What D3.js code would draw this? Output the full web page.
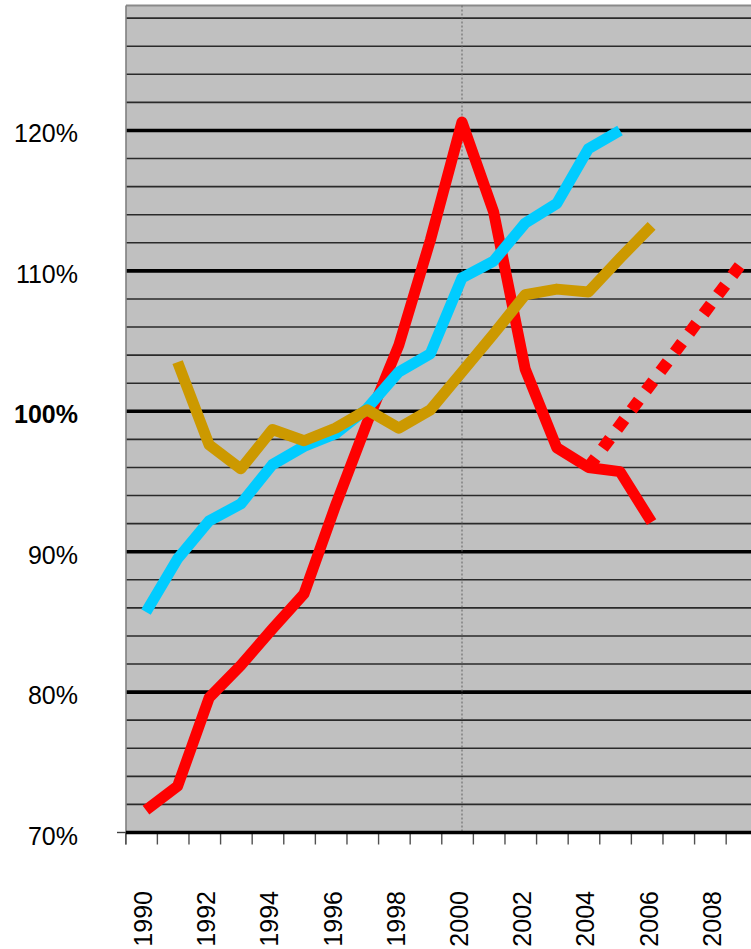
<!DOCTYPE html>
<html>
<head>
<meta charset="utf-8">
<script src="https://cdn.jsdelivr.net/npm/d3@7"></script>
<style>
    html, body { margin: 0; padding: 0; background: #ffffff; }
    svg { display: block; }
    text { font-family: Arial, "Liberation Sans", sans-serif; }
</style>
</head>
<body>
<div id="chart"></div>
<script>
// Index chart, 1990 = 100-ish, three series plus a dotted trend

const years = [1990, 1991, 1992, 1993, 1994, 1995, 1996, 1997, 1998, 1999,
               2000, 2001, 2002, 2003, 2004, 2005, 2006, 2007, 2008, 2009];

const redValues  = [71.6, 73.3, 79.6, 81.9, 84.5, 87.0, 93.3, 99.2, 104.7, 112.2,
                    120.6, 114.2, 103.0, 97.4, 96.0, 95.7, 92.1, null, null, null];
const cyanValues = [85.7, 89.5, 92.2, 93.4, 96.2, 97.5, 98.4, 100.2, 102.8, 104.1,
                    109.5, 110.7, 113.4, 114.8, 118.7, 120.0, null, null, null, null];
const goldValues = [null, 103.5, 97.6, 95.9, 98.7, 97.9, 98.8, 100.1, 98.8, 100.1,
                    102.8, 105.5, 108.3, 108.7, 108.5, 110.9, 113.2, null, null, null];

// dotted red trend
const trendYears  = [2004, 2009];
const trendValues = [96.0, 111.0];

const labelYears = [1990, 1992, 1994, 1996, 1998, 2000, 2002, 2004, 2006, 2008];
const majorTicks = [70, 80, 90, 100, 110, 120];
const tickLabels = ['70%', '80%', '90%', '100%', '110%', '120%'];
const minorTicks = [72, 74, 76, 78, 82, 84, 86, 88, 92, 94, 96, 98, 102, 104, 106, 108,
                    112, 114, 116, 118, 122, 124, 126, 128];

const width = 751;
const height = 949;
const plotLeft = 126;
const plotRight = 780;   // plot runs past the right edge of the picture

const svg = d3.select('#chart').append('svg')
    .attr('width', width)
    .attr('height', height);

// Scales
const x = d3.scaleLinear()
    .domain([1990, 2009])
    .range([146, 746.4]);

const y = d3.scaleLinear()
    .domain([70, 128.9])
    .range([832.5, 5.5]);

// Plot background
svg.append('rect')
    .attr('x', plotLeft)
    .attr('y', y(128.9))
    .attr('width', plotRight - plotLeft)
    .attr('height', y(70) - y(128.9))
    .attr('fill', '#c0c0c0');

// top border
svg.append('line')
    .attr('x1', plotLeft).attr('x2', plotRight)
    .attr('y1', y(128.9)).attr('y2', y(128.9))
    .attr('stroke', '#8a8a8a')
    .attr('stroke-width', 2);

// Minor gridlines
svg.selectAll('.minor')
    .data(minorTicks)
    .enter()
    .append('line')
    .attr('class', 'minor')
    .attr('x1', plotLeft).attr('x2', plotRight)
    .attr('y1', d => y(d)).attr('y2', d => y(d))
    .attr('stroke', '#2a2a2a')
    .attr('stroke-width', 1.6);

// Major gridlines
svg.selectAll('.major')
    .data(majorTicks.filter(d => d > 70))
    .enter()
    .append('line')
    .attr('class', 'major')
    .attr('x1', plotLeft).attr('x2', plotRight)
    .attr('y1', d => y(d)).attr('y2', d => y(d))
    .attr('stroke', '#000000')
    .attr('stroke-width', 3.6);

// Dashed marker at 2000
svg.append('line')
    .attr('x1', x(2000)).attr('x2', x(2000))
    .attr('y1', y(128.9)).attr('y2', y(70))
    .attr('stroke', '#606060')
    .attr('stroke-width', 1)
    .attr('stroke-dasharray', '2,2');

// Left axis
svg.append('line')
    .attr('x1', plotLeft).attr('x2', plotLeft)
    .attr('y1', y(128.9)).attr('y2', y(70) + 12)
    .attr('stroke', '#808080')
    .attr('stroke-width', 1.6);

svg.append('line')
    .attr('x1', plotLeft - 9).attr('x2', plotLeft)
    .attr('y1', y(70)).attr('y2', y(70))
    .attr('stroke', '#404040')
    .attr('stroke-width', 1.4);

// Bottom axis ticks (between years)
svg.selectAll('.xtick')
    .data(years)
    .enter()
    .append('line')
    .attr('class', 'xtick')
    .attr('x1', d => x(d - 0.64)).attr('x2', d => x(d - 0.64))
    .attr('y1', y(70)).attr('y2', y(70) + 12)
    .attr('stroke', '#505050')
    .attr('stroke-width', 1.4);

svg.append('line')
    .attr('x1', plotLeft).attr('x2', plotRight)
    .attr('y1', y(70)).attr('y2', y(70))
    .attr('stroke', '#000000')
    .attr('stroke-width', 3.6);

// Y labels
svg.selectAll('.ylabel')
    .data(majorTicks)
    .enter()
    .append('text')
    .attr('class', 'ylabel')
    .attr('x', 78)
    .attr('y', d => y(d) + 12)
    .attr('text-anchor', 'end')
    .attr('font-size', '25px')
    .attr('font-weight', d => d === 100 ? 'bold' : 'normal')
    .attr('fill', '#000')
    .text((d, i) => tickLabels[i]);

// X labels, rotated
svg.selectAll('.xlabel')
    .data(labelYears)
    .enter()
    .append('text')
    .attr('class', 'xlabel')
    .attr('transform', d => `translate(${x(d) + 6},891) rotate(-90)`)
    .attr('text-anchor', 'end')
    .attr('font-size', '25px')
    .attr('fill', '#000')
    .text(d => d);

// Lines
function seriesLine(values) {
    return d3.line()
        .defined((d, i) => values[i] !== null)
        .x((d, i) => x(years[i]))
        .y((d, i) => y(values[i]))(years);
}

const lineStyle = (sel, color) => sel
    .attr('fill', 'none')
    .attr('stroke', color)
    .attr('stroke-width', 11)
    .attr('stroke-linejoin', 'round')
    .attr('stroke-linecap', 'butt');

svg.append('path').attr('d', seriesLine(redValues)).call(lineStyle, '#ff0000');
svg.append('path').attr('d', seriesLine(cyanValues)).call(lineStyle, '#00ccff');
svg.append('path').attr('d', seriesLine(goldValues)).call(lineStyle, '#cc9900');

const trendLine = d3.line()
    .x((d, i) => x(trendYears[i]))
    .y((d, i) => y(trendValues[i]));

svg.append('path')
    .attr('d', trendLine(trendYears))
    .attr('fill', 'none')
    .attr('stroke', '#ff0000')
    .attr('stroke-width', 12)
    .attr('stroke-dasharray', '12,12')
    .attr('stroke-linecap', 'butt');
</script>
</body>
</html>
